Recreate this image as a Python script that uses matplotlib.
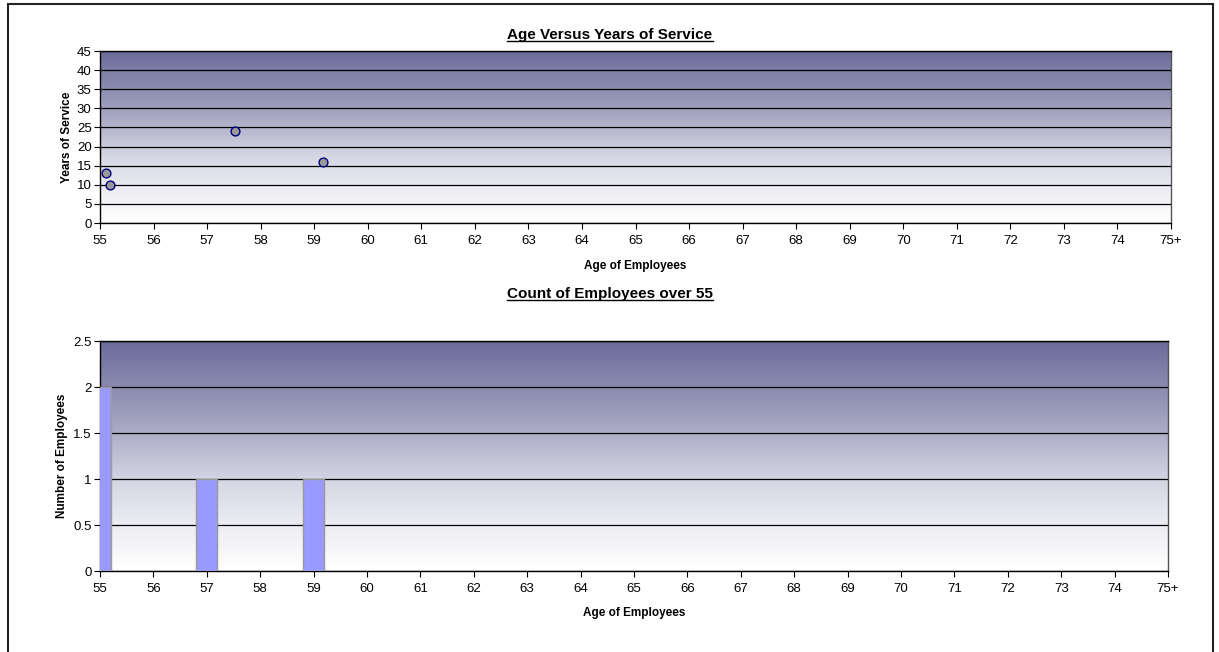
import numpy as np
import matplotlib.pyplot as plt
from matplotlib.colors import LinearSegmentedColormap
from matplotlib.patches import Rectangle
from matplotlib.lines import Line2D
from matplotlib.ticker import FuncFormatter

plt.rcParams['font.family'] = ['Liberation Sans', 'DejaVu Sans']

# scatter data: age vs years of service
ages = [55.12, 55.18, 57.52, 59.17]
service = [13, 10, 24, 16]

# histogram data: count per age
count_ages = [55, 57, 59]
counts = [2, 1, 1]

tick_vals = list(range(55, 76))
tick_labels = [str(v) for v in range(55, 75)] + ['75+']

W, H = 1219, 652
fig = plt.figure(figsize=(W / 100, H / 100), dpi=100)

# outer frame of the chart object
fig.patches.append(Rectangle((8 / W, -0.05), (1213 - 8) / W, 1.05 - 4 / H,
                             transform=fig.transFigure, fill=False,
                             edgecolor='#222222', linewidth=1.5, clip_on=False))

cmap = LinearSegmentedColormap.from_list('bg', ['#ffffff', '#d9d9e6', '#9b9bbb', '#6b6b9b'])
grad = np.linspace(0, 1, 256).reshape(-1, 1) ** 1.1


def style_axes(ax, ymax, ystep):
    ax.set_xlim(55, 75)
    ax.set_ylim(0, ymax)
    ax.imshow(grad, extent=[55, 75, 0, ymax], origin='lower', aspect='auto',
              cmap=cmap, zorder=0)
    ax.set_yticks(np.arange(0, ymax + 0.001, ystep))
    ax.yaxis.set_major_formatter(FuncFormatter(lambda v, p: f'{v:g}'))
    ax.set_xticks(tick_vals)
    ax.set_xticklabels(tick_labels)
    ax.grid(axis='y', color='black', linewidth=0.9, zorder=1)
    ax.set_axisbelow(False)
    ax.tick_params(labelsize=9.5, length=4, width=0.8, pad=2)
    ax.tick_params(axis='x', pad=5)
    for s in ax.spines.values():
        s.set_linewidth(1.0)
    ax.spines['right'].set_color('#555555')


# top: scatter
ax1 = fig.add_axes([100 / W, 1 - 223 / H, 1071 / W, 172 / H])
style_axes(ax1, 45, 5)
ax1.scatter(ages, service, s=40, facecolor='#999999', edgecolor='#000080',
            linewidth=1.0, zorder=3, clip_on=False)
ax1.set_ylabel('Years of Service', fontsize=8.5, fontweight='bold', labelpad=3)
ax1.set_xlabel('Age of Employees', fontsize=8.5, fontweight='bold', labelpad=9)

# bottom: counts
ax2 = fig.add_axes([100 / W, 1 - 571 / H, 1068 / W, 230 / H])
style_axes(ax2, 2.5, 0.5)
ax2.bar(count_ages, counts, width=0.4, color='#9999ff', edgecolor='#999999',
        linewidth=1.0, zorder=3)
ax2.set_ylabel('Number of Employees', fontsize=8.5, fontweight='bold', labelpad=4)
ax2.set_xlabel('Age of Employees', fontsize=8.5, fontweight='bold', labelpad=8)

titles = [('Age Versus Years of Service', 1 - 35 / H),
          ('Count of Employees over 55', 1 - 294 / H)]
text_objs = []
for t, y in titles:
    text_objs.append(fig.text(610 / W, y, t, ha='center', va='center',
                              fontsize=11, fontweight='bold'))

# underline the titles
fig.canvas.draw()
r = fig.canvas.get_renderer()
for txt in text_objs:
    bb = txt.get_window_extent(r).transformed(fig.transFigure.inverted())
    fig.lines.append(Line2D([bb.x0, bb.x1], [bb.y0 + 0.002, bb.y0 + 0.002],
                            transform=fig.transFigure, color='black', linewidth=1.0))

fig.savefig('out.png', dpi=100)
